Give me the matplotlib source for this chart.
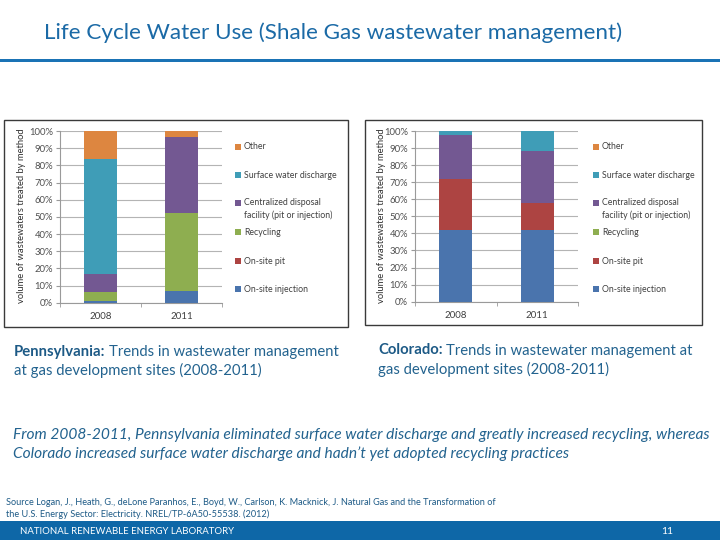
import matplotlib
matplotlib.use("Agg")
import matplotlib.pyplot as plt
from matplotlib.patches import Rectangle
from matplotlib.ticker import PercentFormatter, FixedLocator
import numpy as np

plt.rcParams['font.family'] = ['Lato', 'DejaVu Sans']

# ---------------- data ----------------
years = ['2008', '2011']
# stacking order (bottom -> top)
methods = ['On-site injection', 'On-site pit', 'Recycling',
           'Centralized disposal\nfacility (pit or injection)',
           'Surface water discharge', 'Other']
colors = ['#4a74ad', '#ad4442', '#8eae50', '#735892', '#3f9db7', '#dd8640']

# Pennsylvania: share (%) by method, per year
pa_injection = [1.0, 7.0]
pa_pit = [0.0, 0.0]
pa_recycling = [5.5, 45.4]
pa_centralized = [10.2, 43.9]
pa_surface = [67.2, 0.0]
pa_other = [16.1, 3.7]

# Colorado: share (%) by method, per year
co_injection = [42.0, 42.0]
co_pit = [29.9, 15.6]
co_recycling = [0.0, 0.0]
co_centralized = [25.8, 30.7]
co_surface = [2.3, 11.7]
co_other = [0.0, 0.0]

pa_series = [pa_injection, pa_pit, pa_recycling, pa_centralized, pa_surface, pa_other]
co_series = [co_injection, co_pit, co_recycling, co_centralized, co_surface, co_other]

ylabel = 'volume of wastewaters treated by method'
yticks = [0, 10, 20, 30, 40, 50, 60, 70, 80, 90, 100]

title = 'Life Cycle Water Use (Shale Gas wastewater management)'

W, H = 720, 540
fig = plt.figure(figsize=(7.2, 5.4), dpi=100)
fig.patch.set_facecolor('white')


def fx(x):
    return x / W


def fy(y):
    return 1 - y / H


def rect(x0, y0, x1, y1, z=1, **kw):
    fig.patches.append(Rectangle((fx(x0), fy(y1)), fx(x1) - fx(x0), (y1 - y0) / H,
                                 transform=fig.transFigure, figure=fig, zorder=z, **kw))


# ---------------- header ----------------
fig.text(fx(44), fy(33), title, fontsize=16.2, color='#1b6aa6', va='center', ha='left')
rect(0, 58.5, 720, 61.5, facecolor='#1a73b5', edgecolor='none')

# ---------------- chart panels ----------------
rect(4, 120, 348, 327, z=-1, facecolor='white', edgecolor='#3a3a3a', linewidth=1.0)
rect(365, 120, 702, 325, z=-1, facecolor='white', edgecolor='#3a3a3a', linewidth=1.0)


def draw_chart(series, ax_px, legend_x, ylabel_x):
    x0, y0, x1, y1 = ax_px
    ax = fig.add_axes([fx(x0), fy(y1), fx(x1) - fx(x0), (y1 - y0) / H])
    ax.patch.set_alpha(0)
    xpos = np.array([0.5, 1.5])
    bottom = np.zeros(len(years))
    for vals, c in zip(series, colors):
        v = np.array(vals)
        ax.bar(xpos, v, 0.4, bottom=bottom, color=c, edgecolor='none', zorder=3)
        bottom += v
    ax.set_xlim(0, 2)
    ax.set_ylim(0, 100)
    ax.set_yticks(yticks)
    ax.yaxis.set_major_formatter(PercentFormatter(decimals=0))
    ax.set_xticks(xpos)
    ax.set_xticklabels(years)
    ax.xaxis.set_minor_locator(FixedLocator([0, 1, 2]))
    ax.tick_params(axis='x', which='major', length=0, labelsize=7, labelcolor='#404040', pad=7)
    ax.tick_params(axis='x', which='minor', length=3, color='#9a9a9a', direction='out')
    ax.tick_params(axis='y', length=3, color='#9a9a9a', labelsize=6.8, labelcolor='#505050', pad=2)
    ax.grid(axis='y', color='#b4b4b4', linewidth=0.8, zorder=0)
    for s in ['top', 'right']:
        ax.spines[s].set_visible(False)
    for s in ['left', 'bottom']:
        ax.spines[s].set_color('#9a9a9a')
        ax.spines[s].set_linewidth(0.8)
    fig.text(fx(ylabel_x), fy(216), ylabel, rotation=90, fontsize=6.75, color='#303030',
             ha='center', va='center')
    # legend (top -> bottom order)
    leg_y = [146.7, 175.3, 203.3, 232.3, 261.0, 289.3]
    for name, c, ly in zip(methods[::-1], colors[::-1], leg_y):
        rect(legend_x, ly - 3, legend_x + 6, ly + 3, facecolor=c, edgecolor='none')
        if '\n' in name:
            fig.text(fx(legend_x + 9), fy(ly - 5.5), name, fontsize=6.3, color='#404040',
                     ha='left', va='top', linespacing=1.55)
        else:
            fig.text(fx(legend_x + 9), fy(ly), name, fontsize=6.3, color='#404040',
                     ha='left', va='center')
    return ax


draw_chart(pa_series, (60, 131, 222, 302.7), 235, 22)
draw_chart(co_series, (415, 131, 578, 301.7), 593, 381)

# ---------------- captions ----------------
renderer = fig.canvas.get_renderer()
cap_color = '#23638f'


def caption(x, y, bold, rest, size=10.7):
    t = fig.text(fx(x), fy(y), bold, fontsize=size, fontweight='bold', color='#1d5a86',
                 ha='left', va='center')
    bb = t.get_window_extent(renderer=renderer)
    fig.text(bb.x1 / W + 3 / W, fy(y), rest, fontsize=size, color=cap_color,
             ha='left', va='center')


caption(14, 351.7, 'Pennsylvania:', 'Trends in wastewater management')
fig.text(fx(14), fy(370.5), 'at gas development sites (2008-2011)', fontsize=10.7,
         color=cap_color, ha='left', va='center')
caption(378, 350.5, 'Colorado:', 'Trends in wastewater management at')
fig.text(fx(378), fy(369.5), 'gas development sites (2008-2011)', fontsize=10.7,
         color=cap_color, ha='left', va='center')

fig.text(fx(13), fy(434.5), 'From 2008-2011, Pennsylvania eliminated surface water discharge and greatly increased recycling, whereas',
         fontsize=11.2, style='italic', color=cap_color, ha='left', va='center')
fig.text(fx(13), fy(453.5), 'Colorado increased surface water discharge and hadn\u2019t yet adopted recycling practices',
         fontsize=11.2, style='italic', color=cap_color, ha='left', va='center')

# ---------------- source & footer ----------------
fig.text(fx(6.5), fy(502.3), 'Source Logan, J., Heath, G., deLone Paranhos, E., Boyd, W., Carlson, K. Macknick, J. Natural Gas and the Transformation of',
         fontsize=6.6, color='#1d5a86', ha='left', va='center')
fig.text(fx(6.5), fy(514.3), 'the U.S. Energy Sector: Electricity. NREL/TP-6A50-55538. (2012)',
         fontsize=6.6, color='#1d5a86', ha='left', va='center')

rect(0, 521, 720, 540, facecolor='#0e67a7', edgecolor='none')
fig.text(fx(20.5), fy(532), 'NATIONAL RENEWABLE ENERGY LABORATORY', fontsize=6.9,
         color='white', ha='left', va='center')
fig.text(fx(667), fy(532), '11', fontsize=7.5, color='white', ha='center', va='center')

fig.savefig('out.png', dpi=100, facecolor='white')
